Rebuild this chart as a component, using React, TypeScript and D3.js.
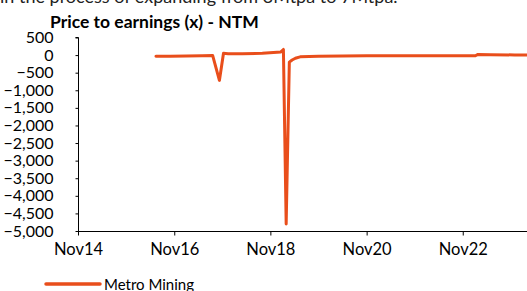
import React, { useRef, useEffect } from 'react';
import * as d3 from 'd3';

const WIDTH = 527;
const HEIGHT = 291;

const FONT = 'Lato, "Open Sans", sans-serif';
const LINE_COLOR = '#E94E1B';

// Price to earnings (x) - NTM, Metro Mining
const dates = [
  '2016-06-15', '2016-10-01', '2017-02-01', '2017-06-01', '2017-08-20', '2017-10-10',
  '2017-11-10', '2017-12-15', '2018-04-01', '2018-09-01', '2019-01-20', '2019-02-08',
  '2019-03-01', '2019-03-25', '2019-04-15', '2019-05-10', '2019-06-15', '2019-11-01',
  '2020-05-01', '2020-11-01', '2021-05-01', '2021-11-01', '2022-05-01', '2022-11-01',
  '2023-02-05', '2023-02-25', '2023-06-01', '2023-12-01', '2024-06-01', '2024-11-01',
];
const values = [
  -35, -30, -25, -20, -15, -720,
  50, 40, 40, 50, 90, 160,
  -4800, -200, -140, -90, -50, -30,
  -25, -20, -20, -20, -20, -20,
  -20, 20, 10, 5, 0, 0,
];

const yTicks = [500, 0, -500, -1000, -1500, -2000, -2500, -3000, -3500, -4000, -4500, -5000];
const xTickLabels = ['Nov14', 'Nov16', 'Nov18', 'Nov20', 'Nov22'];
const seriesName = 'Metro Mining';

const parseDay = d3.timeParse('%Y-%m-%d');

const App: React.FC = () => {
  const svgRef = useRef<SVGSVGElement>(null);

  useEffect(() => {
    if (!svgRef.current) return;
    const svg = d3.select(svgRef.current);
    svg.selectAll('*').remove();

    const x = d3
      .scaleTime()
      .domain([parseDay('2014-11-01') as Date, parseDay('2024-11-01') as Date])
      .range([78, 559]);
    const y = d3.scaleLinear().domain([-5000, 500]).range([231, 37.5]);

    // cut-off text above the chart
    svg.append('text')
      .attr('x', 0)
      .attr('y', 3)
      .attr('font-family', FONT)
      .attr('font-size', '18px')
      .attr('fill', '#222')
      .text('in the process of expanding from 3Mtpa to 7Mtpa.');

    // title
    svg.append('text')
      .attr('x', 50)
      .attr('y', 28)
      .attr('font-family', FONT)
      .attr('font-size', '17.5px')
      .attr('font-weight', 'bold')
      .attr('fill', '#000')
      .text('Price to earnings (x) - NTM');

    // y axis
    const yAxis = d3.axisLeft(y)
      .tickValues(yTicks)
      .tickSize(3)
      .tickPadding(22)
      .tickFormat((d) => d3.format(',')(d as number));
    const gy = svg.append('g').attr('transform', 'translate(78.5,0)').call(yAxis);
    gy.select('.domain').attr('d', `M-3,${y(500)}H0V${y(-5000)}`).attr('stroke', '#000');
    gy.selectAll('text')
      .attr('font-family', FONT)
      .attr('font-size', '16px')
      .attr('fill', '#000');
    gy.selectAll('line').attr('stroke', '#000');

    // x axis
    const xTickDates = xTickLabels.map((l) => d3.timeParse('%b%y')(l) as Date);
    const xAxis = d3.axisBottom(x)
      .tickValues(xTickDates)
      .tickSize(4)
      .tickPadding(8)
      .tickFormat((_, i) => xTickLabels[i]);
    const gx = svg.append('g').attr('transform', `translate(0,${y(-5000) + 0.5})`).call(xAxis);
    gx.select('.domain').attr('d', `M${x(xTickDates[0])},0H${WIDTH + 40}`).attr('stroke', '#000');
    gx.selectAll('text')
      .attr('font-family', FONT)
      .attr('font-size', '16.5px')
      .attr('fill', '#000');
    gx.selectAll('line').attr('stroke', '#000');

    // series line
    const line = d3
      .line<number>()
      .x((_, i) => x(parseDay(dates[i]) as Date))
      .y((d) => y(d))
      .curve(d3.curveLinear);
    svg.append('path')
      .datum(values)
      .attr('d', line)
      .attr('fill', 'none')
      .attr('stroke', LINE_COLOR)
      .attr('stroke-width', 3)
      .attr('stroke-linejoin', 'round')
      .attr('stroke-linecap', 'round');

    // legend
    svg.append('line')
      .attr('x1', 46)
      .attr('x2', 100)
      .attr('y1', 284)
      .attr('y2', 284)
      .attr('stroke', LINE_COLOR)
      .attr('stroke-width', 3.5)
      .attr('stroke-linecap', 'round');
    svg.append('text')
      .attr('x', 104)
      .attr('y', 290)
      .attr('font-family', FONT)
      .attr('font-size', '15px')
      .attr('fill', '#000')
      .text(seriesName);
  }, []);

  return (
    <svg
      ref={svgRef}
      width={WIDTH}
      height={HEIGHT}
      style={{ position: 'absolute', left: 0, top: 0, background: '#fff' }}
    />
  );
};

export default App;
